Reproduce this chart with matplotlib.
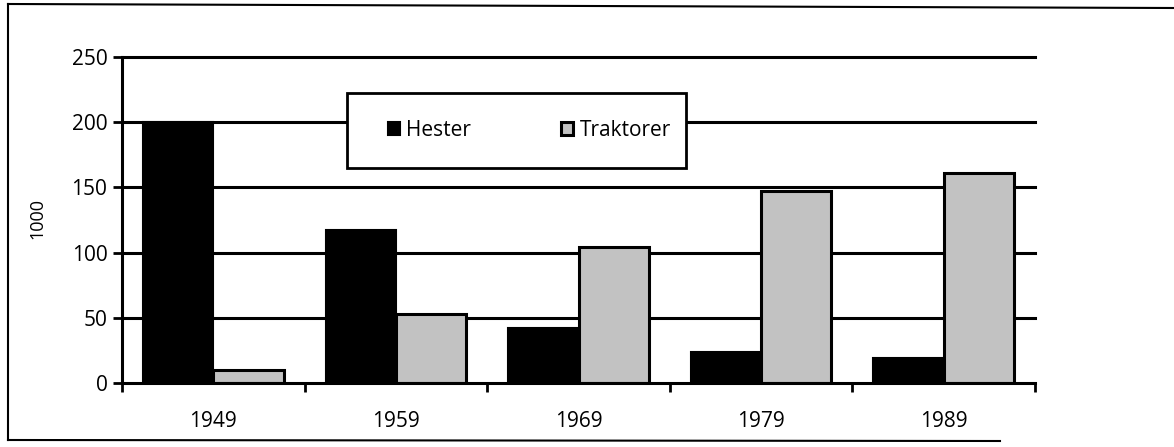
import numpy as np
import matplotlib
matplotlib.use("Agg")
import matplotlib.pyplot as plt
from matplotlib.patches import Rectangle
from matplotlib.lines import Line2D

plt.rcParams['font.family'] = ['Open Sans', 'DejaVu Sans']

# data (1000 animals / machines)
years = ['1949', '1959', '1969', '1979', '1989']
hester = [200, 117, 42, 24, 19]
traktorer = [10, 53, 104, 147, 161]
yticks = [0, 50, 100, 150, 200, 250]

fig = plt.figure(figsize=(11.74, 4.47), dpi=100)
ax = fig.add_axes([122 / 1174, 1 - 383 / 447, 913 / 1174, 326 / 447])

x = np.arange(len(years))
w = 0.385
ax.bar(x - w / 2, hester, w, color='black', edgecolor='black', lw=1.5, zorder=2, label='Hester')
ax.bar(x + w / 2, traktorer, w, color='#c2c2c2', edgecolor='black', lw=2.2, zorder=2, label='Traktorer')

ax.set_xlim(-0.5, len(years) - 0.5)
ax.set_ylim(0, 250)

# horizontal grid lines
for v in yticks[1:]:
    ax.axhline(v, color='black', lw=2.2, zorder=1, clip_on=False)

ax.set_yticks(yticks)
ax.set_yticklabels([str(v) for v in yticks], fontsize=15)
ax.set_xticks(np.arange(-0.5, len(years), 1.0))
ax.set_xticklabels([])
ax.set_xticks(x, minor=True)
ax.set_xticklabels(years, minor=True, fontsize=15)
ax.tick_params(axis='y', direction='out', length=6.5, width=2, pad=4)
ax.tick_params(axis='x', which='major', direction='out', length=6.5, width=2)
ax.tick_params(axis='x', which='minor', length=0, pad=20)

for s in ['top', 'right']:
    ax.spines[s].set_visible(False)
for s in ['left', 'bottom']:
    ax.spines[s].set_linewidth(2.2)
    ax.spines[s].set_zorder(3)

# legend box
lx0, lx1 = (347 - 122) / 913, (686 - 122) / 913
ly0, ly1 = (383 - 168) / 326, (383 - 93) / 326
ax.add_patch(Rectangle((lx0, ly0), lx1 - lx0, ly1 - ly0, transform=ax.transAxes,
                       facecolor='white', edgecolor='black', lw=2, zorder=4))
leg = ax.legend(loc='center', bbox_to_anchor=((lx0 + lx1) / 2 + 0.014, (ly0 + ly1) / 2),
                ncol=2, frameon=False, fontsize=15, handlelength=0.6, handleheight=0.6,
                handletextpad=0.3, columnspacing=4.3)
leg.set_zorder(5)

fig.text(37 / 1174, 1 - 218 / 447, '1000', rotation=90, fontsize=13,
         ha='center', va='center')

# outer frame of the scanned figure
fig.add_artist(Line2D([8 / 1174, 8 / 1174], [1 - 440 / 447, 1 - 4 / 447], color='black', lw=1.5))
fig.add_artist(Line2D([8 / 1174, 1.0], [1 - 4 / 447, 1 - 8 / 447], color='black', lw=1.5))
fig.add_artist(Line2D([8 / 1174, 1000 / 1174], [1 - 440 / 447, 1 - 441 / 447], color='black', lw=1.5))

fig.savefig('out.png', dpi=100)
